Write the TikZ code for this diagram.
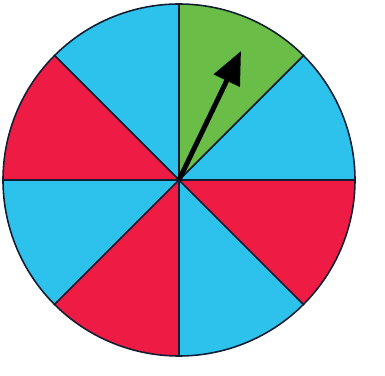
\documentclass[tikz,border=0pt]{standalone}
\usepackage{xcolor}
\usetikzlibrary{arrows.meta}
\definecolor{spinblue}{RGB}{45,194,236}
\definecolor{spinred}{RGB}{238,28,68}
\definecolor{spingreen}{RGB}{106,190,72}
\definecolor{rimline}{RGB}{20,30,50}

\begin{document}
\begin{tikzpicture}[x=0.02cm, y=0.02cm]
    \tikzset{
      wedge/.style={draw=rimline, line width=0.9pt, line join=round},
      pointer/.style={line width=2.8pt, -{Triangle[length=0.66cm, width=0.56cm]}},
    }
    \useasboundingbox (-179,-195) rectangle (206,180);
    \coordinate (c) at (0,0);
    \foreach \a/\col in {0/spinblue, 45/spingreen, 90/spinblue, 135/spinred,
                         180/spinblue, 225/spinred, 270/spinblue, 315/spinred}
      \filldraw[wedge, fill=\col] (c) -- (\a:176)
        arc[start angle=\a, end angle=\a+45, radius=176] -- cycle;
    \coordinate (tip) at (62,129);
    \draw[pointer] (c) -- (tip);
  \end{tikzpicture}
\end{document}
